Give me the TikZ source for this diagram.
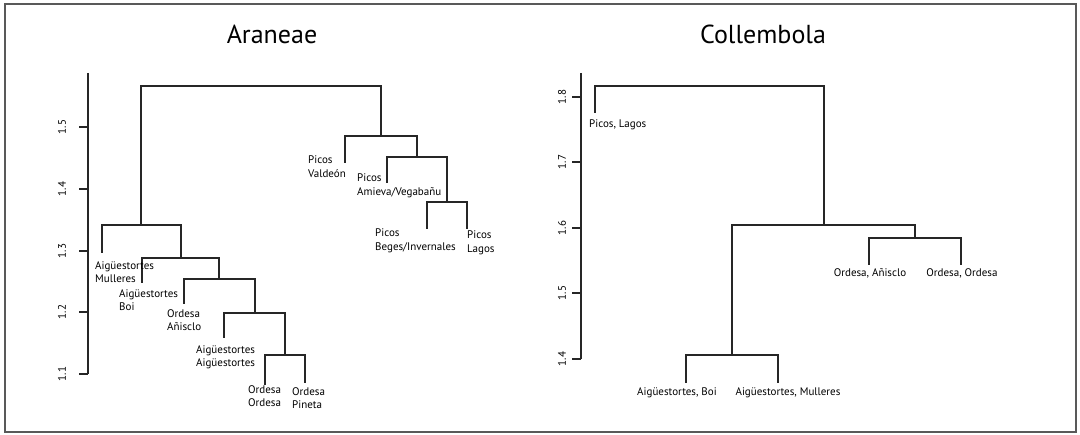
\documentclass[tikz,border=0pt]{standalone}
\usepackage{fontspec}
\setmainfont{PT Sans}
\usetikzlibrary{positioning}

\begin{document}
\begin{tikzpicture}[x=1pt, y=-1pt,
    branch/.style={line width=1.2pt, black!85},
    axisline/.style={line width=1.2pt, black!85},
    taxon/.style={font=\fontsize{11}{13.5}\selectfont, align=left, inner sep=0pt, text=black},
    ticklabel/.style={font=\fontsize{11}{13}\selectfont, rotate=90, inner sep=0pt, text=black},
    plottitle/.style={font=\fontsize{26}{30}\selectfont, inner sep=0pt, text=black}]

\useasboundingbox (0,0) rectangle (1080,435);

% Frame round both plots
\draw[gray!70!black, line width=1.5pt] (5,4) rectangle (1076,432);

% Titles
\node[plottitle] (titleA) at (272,34) {Araneae};
\node[plottitle] (titleC) at (763,34) {Collembola};

%%% Araneae %%%

% Height axis
\coordinate (aTop) at (88,73);
\coordinate (aBot) at (88,374);
\draw[axisline] (aTop) -- (aBot);
\foreach \v/\y/\i in {1.1/374/1, 1.2/312/2, 1.3/251/3, 1.4/189/4, 1.5/127/5} {
    \draw[axisline] (79,\y) -- (88,\y);
    \node[ticklabel] (atick\i) at (62,\y) {\v};
}

% Leaves (bottom ends)
\coordinate (mull)   at (102,253);
\coordinate (boi)    at (142,283);
\coordinate (anis)   at (184,304);
\coordinate (aigaig) at (224,338);
\coordinate (orde)   at (265,385);
\coordinate (pine)   at (305,383);
\coordinate (vald)   at (345,163);
\coordinate (amie)   at (387,183);
\coordinate (bege)   at (427,229);
\coordinate (lago)   at (467,229);

% Merges
\coordinate (aRoot) at (261,86);
\coordinate (aL1) at (141,225);
\coordinate (aL2) at (181,258);
\coordinate (aL3) at (219,279);
\coordinate (aL4) at (255,313);
\coordinate (aL5) at (285,355);
\coordinate (aR1) at (381,136);
\coordinate (aR2) at (417,157);
\coordinate (aR3) at (447,202);

% Branches
\foreach \a/\m/\b in {aL1/aRoot/aR1, mull/aL1/aL2, boi/aL2/aL3, anis/aL3/aL4,
                      aigaig/aL4/aL5, orde/aL5/pine, vald/aR1/aR2, amie/aR2/aR3,
                      bege/aR3/lago} {
    \draw[branch] (\a) |- (\m) -| (\b);
}

% Leaf labels
\node[taxon, anchor=north west] (tmull)   at (95,261)  {Aigüestortes\\Mulleres};
\node[taxon, anchor=north west] (tboi)    at (119,289) {Aigüestortes\\Boi};
\node[taxon, anchor=north west] (tanis)   at (167,309) {Ordesa\\Añisclo};
\node[taxon, anchor=north west] (taigaig) at (196,345) {Aigüestortes\\Aigüestortes};
\node[taxon, anchor=north west] (torde)   at (248,385) {Ordesa\\Ordesa};
\node[taxon, anchor=north west] (tpine)   at (292,387) {Ordesa\\Pineta};
\node[taxon, anchor=north west] (tvald)   at (308,156) {Picos\\Valdeón};
\node[taxon, anchor=north west] (tamie)   at (357,174) {Picos\\Amieva/Vegabañu};
\node[taxon, anchor=north west] (tbege)   at (375,229) {Picos\\Beges/Invernales};
\node[taxon, anchor=north west] (tlago)   at (467,231) {Picos\\Lagos};

%%% Collembola %%%

% Height axis
\coordinate (cTop) at (581,73);
\coordinate (cBot) at (581,359);
\draw[axisline] (cTop) -- (cBot);
\foreach \v/\y/\i in {1.4/359/1, 1.5/293/2, 1.6/228/3, 1.7/162/4, 1.8/97/5} {
    \draw[axisline] (572,\y) -- (581,\y);
    \node[ticklabel] (ctick\i) at (562,\y) {\v};
}

% Leaves (bottom ends)
\coordinate (cpic) at (595,113);
\coordinate (cboi) at (686,383);
\coordinate (cmul) at (778,383);
\coordinate (cani) at (869,265);
\coordinate (cord) at (961,265);

% Merges
\coordinate (cRoot) at (709,86);
\coordinate (cM1) at (824,225);
\coordinate (cM2) at (915,238);
\coordinate (cM3) at (732,355);

% Branches
\foreach \a/\m/\b in {cpic/cRoot/cM1, cM3/cM1/cM2, cani/cM2/cord, cboi/cM3/cmul} {
    \draw[branch] (\a) |- (\m) -| (\b);
}

% Leaf labels
\node[taxon, anchor=north west] (tcpic) at (589,120) {Picos, Lagos};
\node[taxon, anchor=north] (tcani) at (870,268) {Ordesa, Añisclo};
\node[taxon, anchor=north] (tcord) at (962,268) {Ordesa, Ordesa};
\node[taxon, anchor=north] (tcboi) at (677,387) {Aigüestortes, Boi};
\node[taxon, anchor=north] (tcmul) at (788,387) {Aigüestortes, Mulleres};

\end{tikzpicture}
\end{document}
